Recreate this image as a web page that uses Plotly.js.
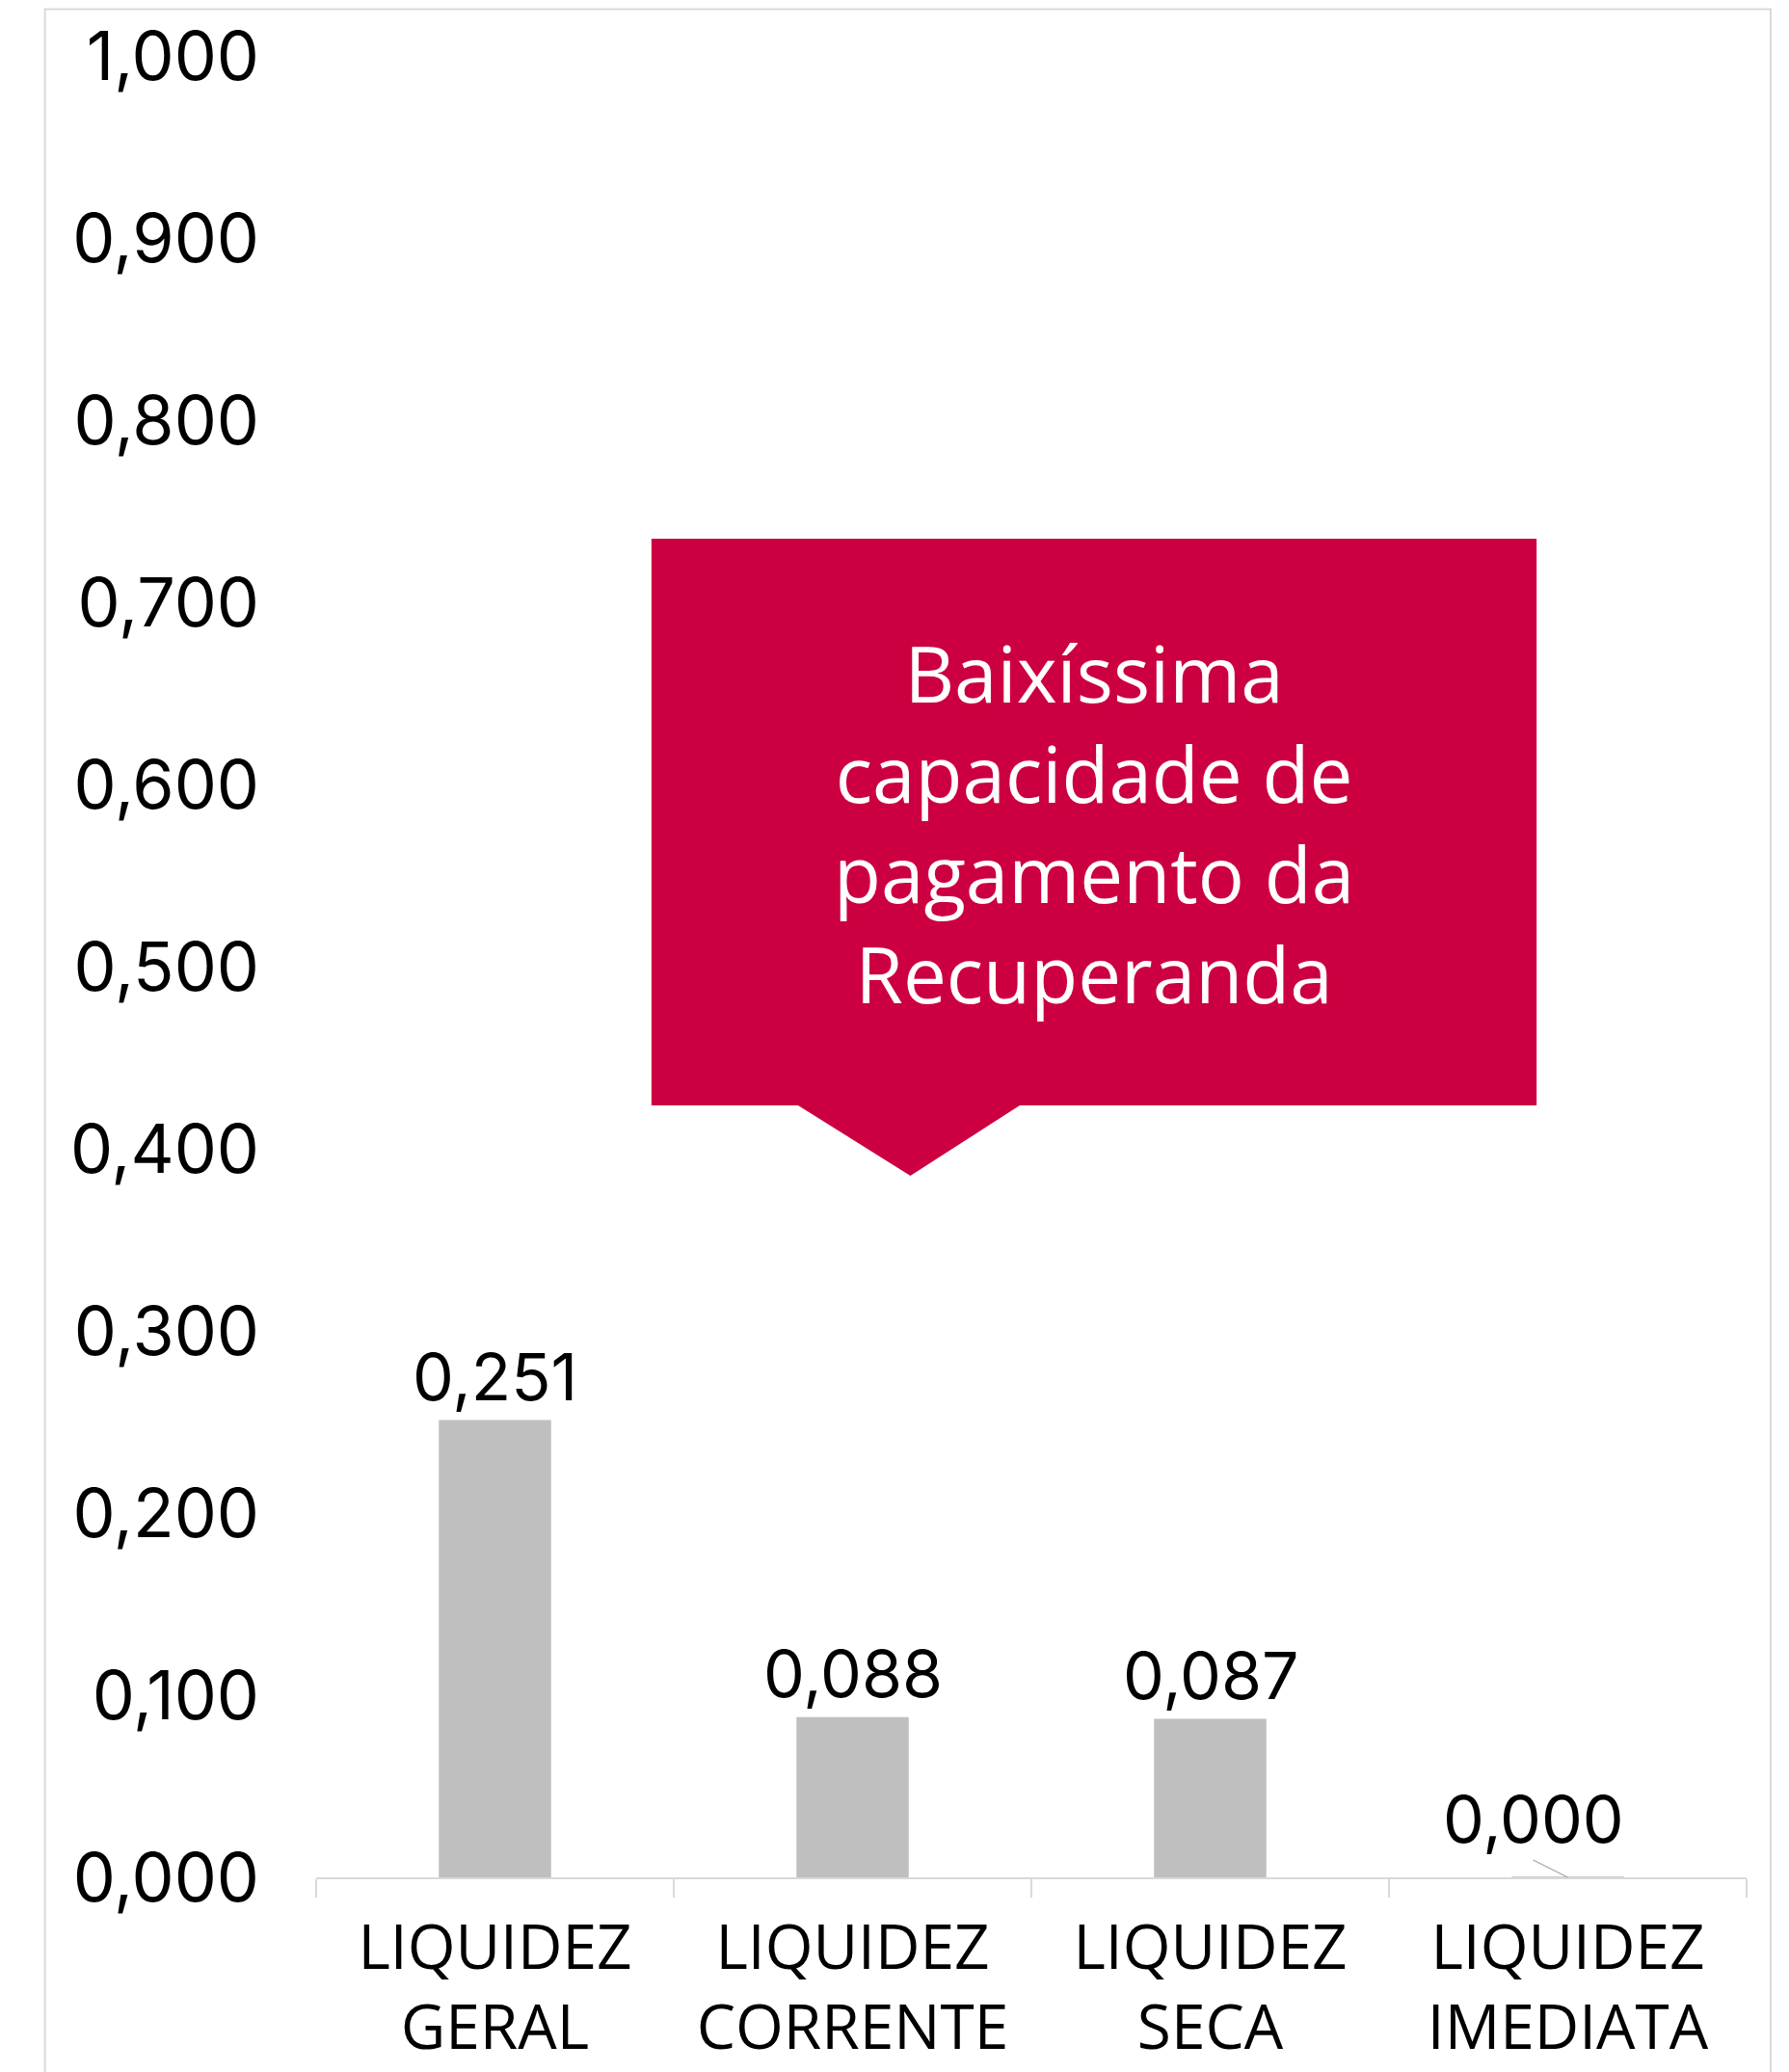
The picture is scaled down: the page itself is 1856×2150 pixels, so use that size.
<!DOCTYPE html>
<html>
<head>
<meta charset="utf-8">
<script src="https://cdn.plot.ly/plotly-3.0.1.min.js"></script>
<style>html,body{margin:0;padding:0;background:#fff;}#chart{width:1856px;height:2150px;}</style>
</head>
<body>
<div id="chart"></div>
<script>
// ---- data ----
var categories = ["LIQUIDEZ<br>GERAL", "LIQUIDEZ<br>CORRENTE", "LIQUIDEZ<br>SECA", "LIQUIDEZ<br>IMEDIATA"];
var values = [0.251, 0.088, 0.087, 0.000];
var yTickVals = [0, 0.1, 0.2, 0.3, 0.4, 0.5, 0.6, 0.7, 0.8, 0.9, 1.0];
var calloutLines = ["Baixíssima", "capacidade de", "pagamento da", "Recuperanda"];

// ---- style ----
var barColor = "#bfbfbf";
var axisGray = "#d9d9d9";
var calloutRed = "#cc0040";
var numFont = "Inter, 'DejaVu Sans', sans-serif";
var catFont = "'Open Sans', 'Noto Sans', sans-serif";
var barWidth = 0.314;

var fmt = function (v) { return v.toFixed(3).replace(".", ","); };

var annotations = [];
values.forEach(function (v, i) {
  if (v === 0) {
    annotations.push({
      x: categories[i], y: v, xref: "x", yref: "y",
      text: fmt(v), showarrow: true, arrowhead: 0, arrowwidth: 1.3,
      arrowcolor: "#a6a6a6", ax: -36, ay: -18, standoff: 0,
      xanchor: "center", yanchor: "bottom",
      font: {family: numFont, size: 68, color: "#000"}
    });
  } else {
    annotations.push({
      x: categories[i], y: v, xref: "x", yref: "y",
      text: fmt(v), showarrow: false, yanchor: "middle", yshift: 46,
      font: {family: numFont, size: 68, color: "#000"}
    });
  }
});

annotations.push({
  x: 0.5438, y: 0.5792, xref: "paper", yref: "paper",
  text: calloutLines.join("<br>"), showarrow: false, xanchor: "center", yanchor: "middle",
  align: "center",
  font: {family: catFont, size: 80, color: "#ffffff"}
});

var shapes = [
  // outer frame
  {type: "rect", xref: "paper", yref: "paper", x0: -0.1896, x1: 1.0168, y0: -0.2, y1: 1.0256,
   line: {color: axisGray, width: 2}, fillcolor: "rgba(0,0,0,0)", layer: "below"},
  // callout box with pointer
  {type: "path", xref: "paper", yref: "paper",
   path: "M0.2344,0.7349 L0.8532,0.7349 L0.8532,0.4238 L0.4919,0.4238 L0.4154,0.3852 L0.3369,0.4238 L0.2344,0.4238 Z",
   fillcolor: calloutRed, line: {width: 0}, layer: "above"}
];
// outline of zero-height bars
values.forEach(function (v, i) {
  if (v === 0) {
    shapes.push({type: "line", xref: "x", yref: "y", x0: i - barWidth / 2, x1: i + barWidth / 2,
      y0: v, y1: v, line: {color: barColor, width: 1.5}});
  }
});

var trace = {
  type: "bar",
  x: categories,
  y: values,
  marker: {color: barColor},
  width: barWidth,
  hoverinfo: "skip"
};

var layout = {
  width: 1856, height: 2150,
  margin: {l: 328, r: 44, t: 58, b: 202},
  paper_bgcolor: "#ffffff", plot_bgcolor: "#ffffff",
  separators: ",.",
  showlegend: false,
  xaxis: {
    type: "category",
    showline: true, linecolor: axisGray, linewidth: 2,
    ticks: "outside", tickson: "boundaries", ticklen: 19, tickcolor: axisGray, tickwidth: 2,
    tickfont: {family: catFont, size: 64, color: "#000"},
    ticklabelstandoff: 16,
    showgrid: false, zeroline: false, fixedrange: true
  },
  yaxis: {
    range: [0, 1],
    tickvals: yTickVals, tickformat: ".3f",
    showline: false, showgrid: false, zeroline: false, ticks: "",
    tickfont: {family: numFont, size: 70, color: "#000"},
    ticklabelstandoff: 58,
    fixedrange: true
  },
  annotations: annotations,
  shapes: shapes
};

Plotly.newPlot("chart", [trace], layout, {displayModeBar: false, staticPlot: true});
</script>
</body>
</html>
